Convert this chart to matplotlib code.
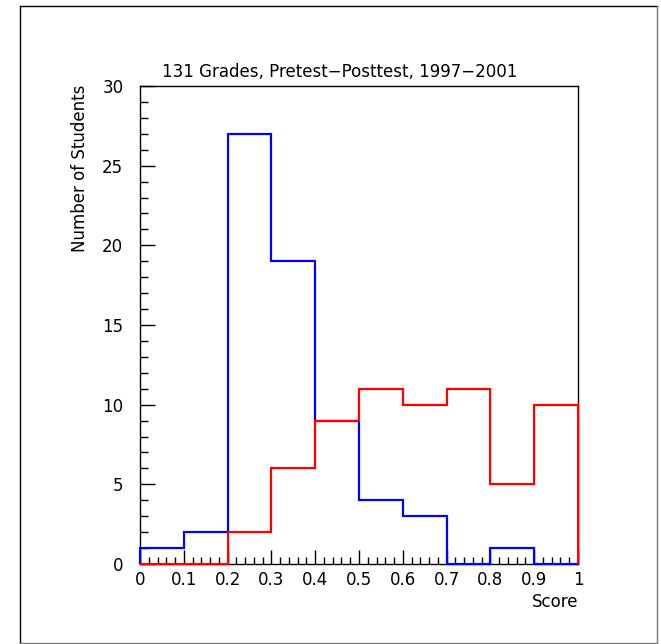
import numpy as np
import matplotlib
matplotlib.use("Agg")
import matplotlib.pyplot as plt
from matplotlib.ticker import MultipleLocator, FormatStrFormatter
from matplotlib.lines import Line2D

# histogram contents, 10 bins of width 0.1 on [0, 1]
bin_edges = [0.0, 0.1, 0.2, 0.3, 0.4, 0.5, 0.6, 0.7, 0.8, 0.9, 1.0]
pretest = [1, 2, 27, 19, 9, 4, 3, 0, 1, 0]
posttest = [0, 0, 2, 6, 9, 11, 10, 11, 5, 10]

title = "131 Grades, Pretest\u2212Posttest, 1997\u22122001"
x_label = "Score"
y_label = "Number of Students"

W, H = 661, 644
fig = plt.figure(figsize=(W / 100, H / 100), dpi=100)

# outer canvas frame
fig.add_artist(Line2D([20 / W, 20 / W], [1 - 6 / H, 1 - 643 / H], color="black", lw=1))
fig.add_artist(Line2D([20 / W, 657 / W], [1 - 6 / H, 1 - 6 / H], color="black", lw=1))
fig.add_artist(Line2D([657 / W, 657 / W], [1 - 6 / H, 1 - 643 / H], color="#777777", lw=1))
fig.add_artist(Line2D([20 / W, 657 / W], [1 - 643 / H, 1 - 643 / H], color="#777777", lw=1))

ax = fig.add_axes([140 / W, 1 - 564 / H, 438 / W, 478 / H])

ax.stairs(pretest, bin_edges, color="blue", lw=1.6, clip_on=False, zorder=3)
ax.stairs(posttest, bin_edges, color="red", lw=1.6, clip_on=False, zorder=4)

ax.set_xlim(0, 1)
ax.set_ylim(0, 30)

ax.xaxis.set_major_locator(MultipleLocator(0.1))
ax.xaxis.set_minor_locator(MultipleLocator(0.02))
ax.yaxis.set_major_locator(MultipleLocator(5))
ax.yaxis.set_minor_locator(MultipleLocator(1))


def fmt_x(v, pos):
    s = f"{v:.1f}"
    if s == "0.0":
        return "0"
    if s == "1.0":
        return "1"
    return s


ax.xaxis.set_major_formatter(plt.FuncFormatter(fmt_x))
ax.yaxis.set_major_formatter(FormatStrFormatter("%d"))

ax.tick_params(which="both", direction="in", top=False, right=False, width=1, labelsize=12)
ax.tick_params(axis="y", which="major", length=11, pad=12)
ax.tick_params(axis="y", which="minor", length=6)
ax.tick_params(axis="x", which="major", length=10, pad=5)
ax.tick_params(axis="x", which="minor", length=5)

for sp in ax.spines.values():
    sp.set_linewidth(1)

fig.text(340 / W, 1 - 72 / H, title, ha="center", va="center", fontsize=12)
fig.text(578 / W, 1 - 602 / H, x_label, ha="right", va="center", fontsize=12)
fig.text(80 / W, 1 - 85 / H, y_label, ha="center", va="top", rotation=90, fontsize=12)

fig.savefig("out.png", dpi=100)
